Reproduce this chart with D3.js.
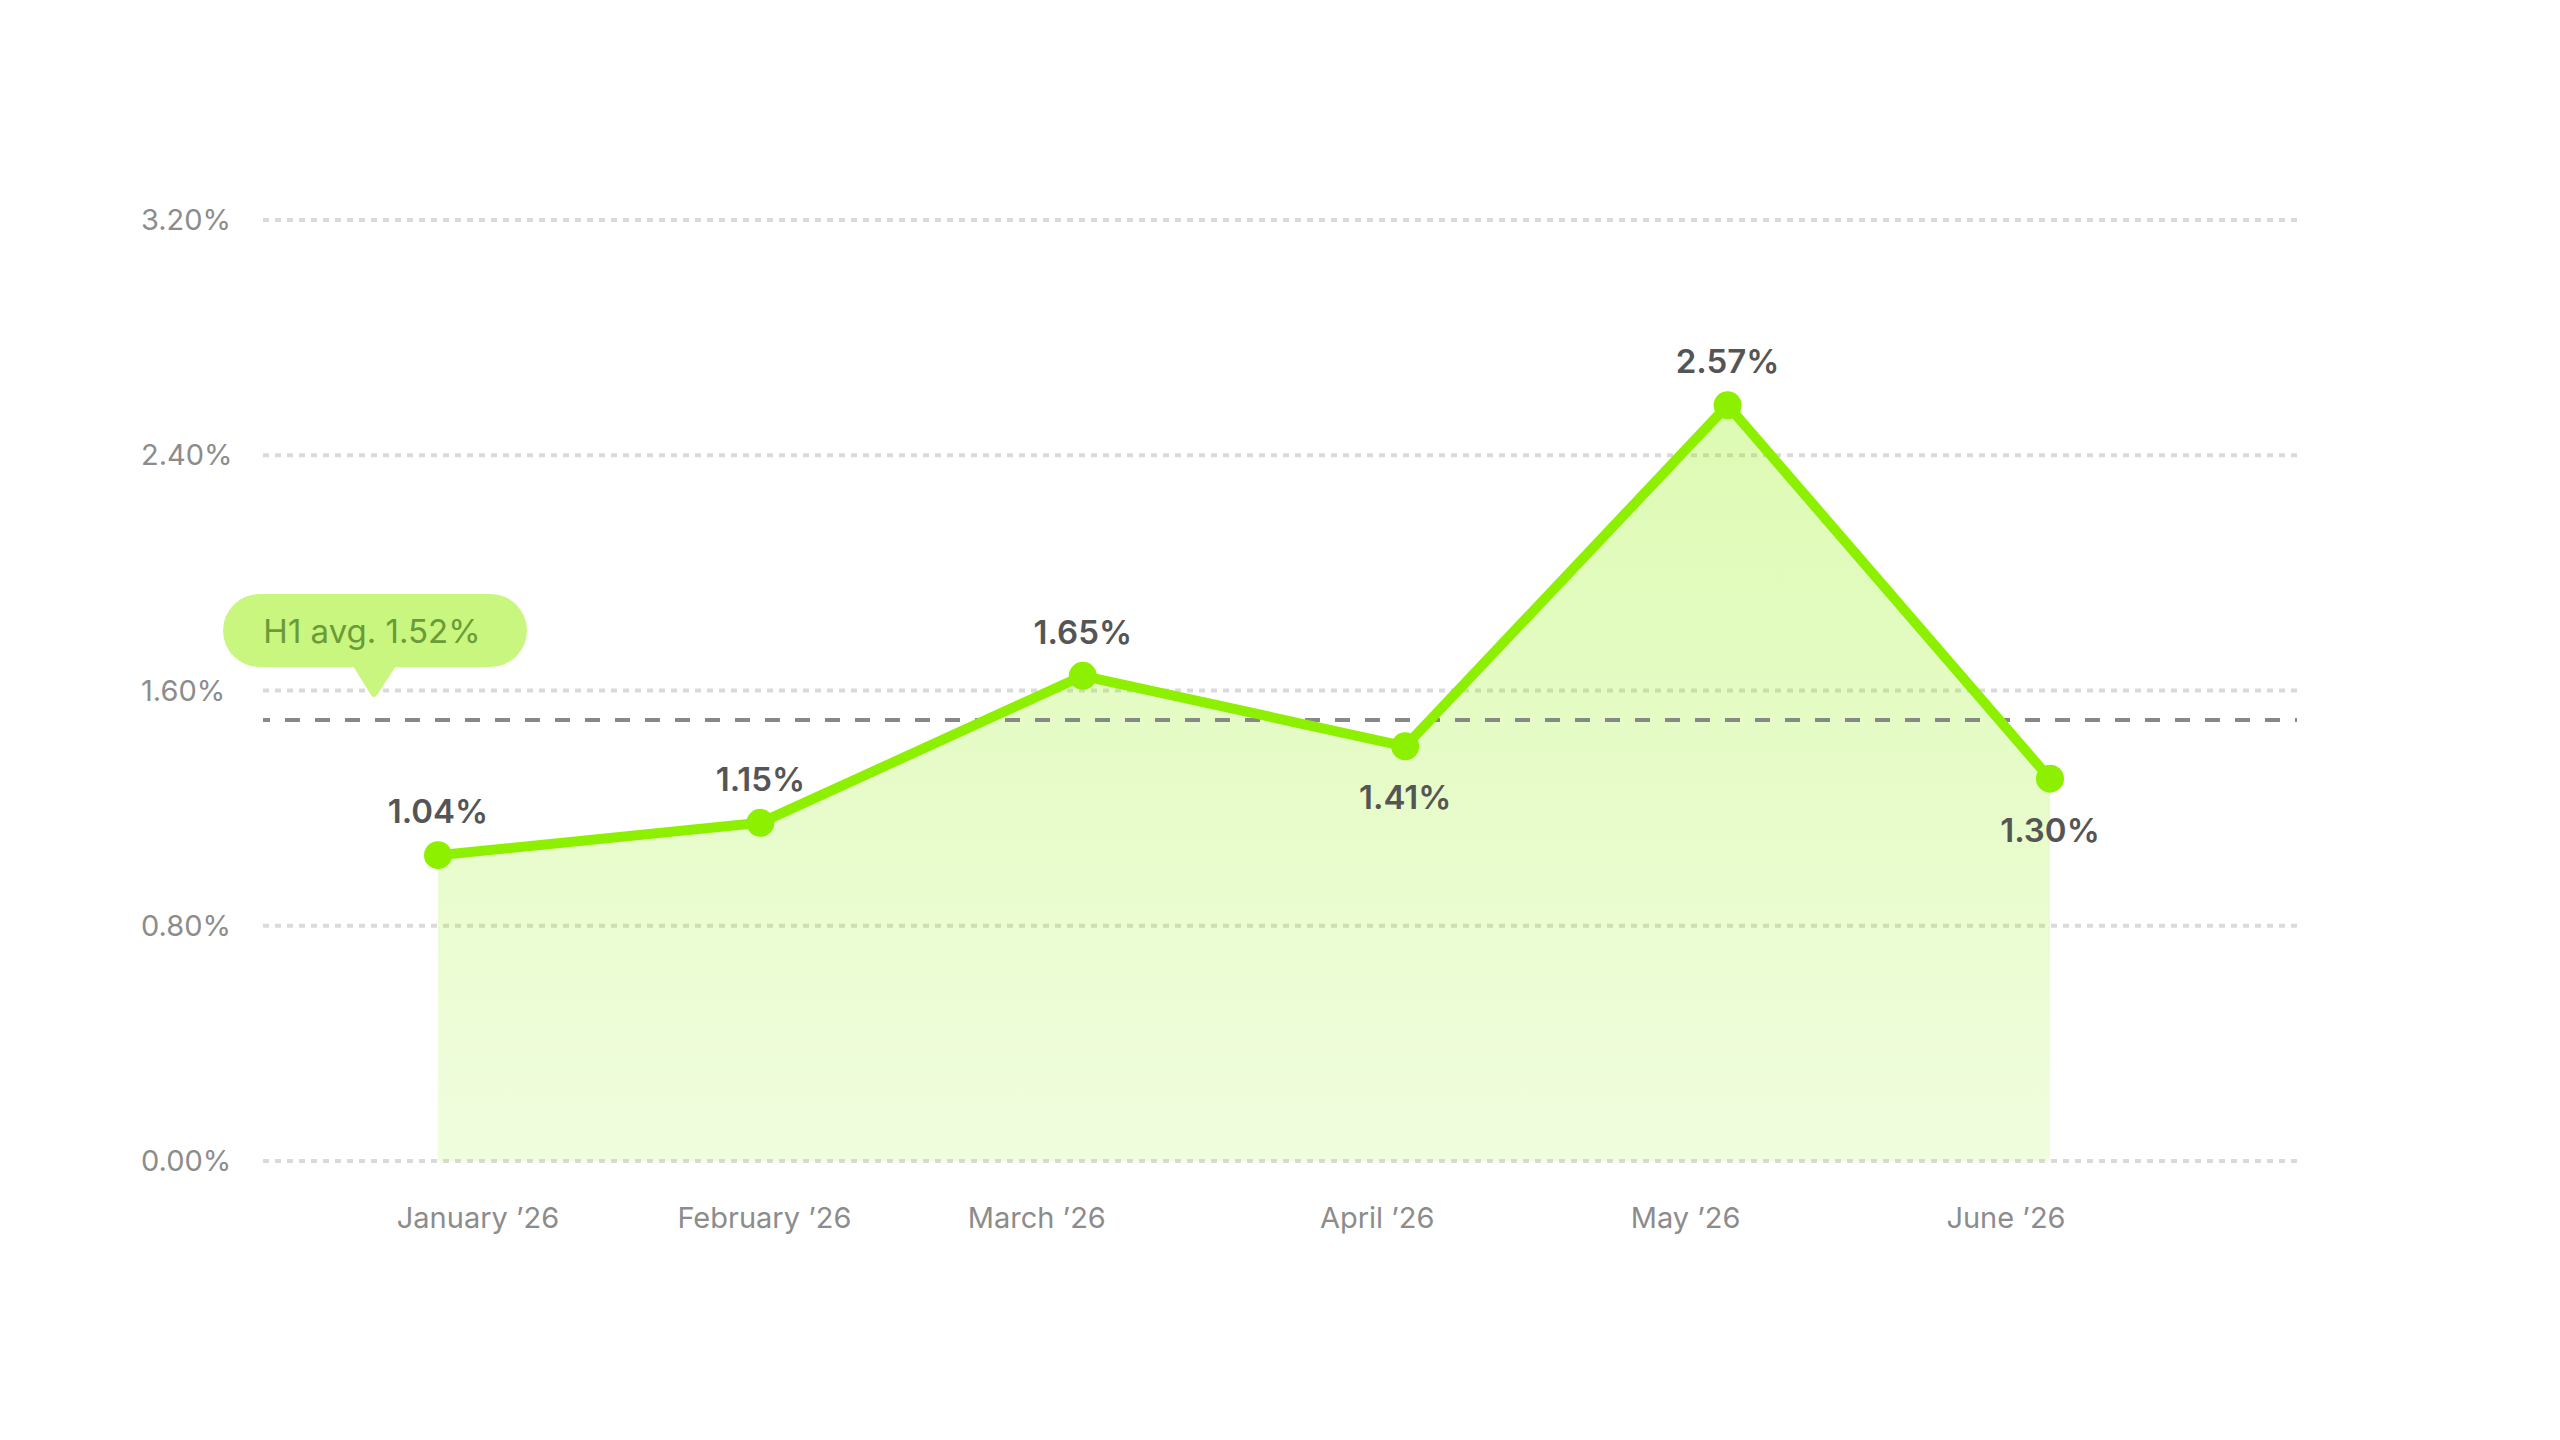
<!DOCTYPE html>
<html>
<head>
<meta charset="utf-8">
<script src="https://cdn.jsdelivr.net/npm/d3@7"></script>
<style>
  html, body { margin: 0; padding: 0; background: #fff; }
  svg { display: block; font-family: Inter, "Noto Sans", sans-serif; }
</style>
</head>
<body>
<svg id="chart" width="2560" height="1440"></svg>
<script>
// dados
const months = ["January \u201926", "February \u201926", "March \u201926", "April \u201926", "May \u201926", "June \u201926"];
const rates = [1.04, 1.15, 1.65, 1.41, 2.57, 1.30];
const yTicks = [0, 0.8, 1.6, 2.4, 3.2];
const avgLineAt = 1.50;

// layout
const cfg = {
  gridLeft: 263, gridRight: 2297,
  yTop: 220, yBottom: 1161,
  xFirst: 438, xLast: 2050,
  lime: "#8df000",
  tickNudge: [40, 4, -46, -28, -42, -44]
};

const svg = d3.select("#chart");

const x = d3.scalePoint().domain(months).range([cfg.xFirst, cfg.xLast]);
const y = d3.scaleLinear().domain([0, 3.2]).range([cfg.yBottom, cfg.yTop]);
const pct = v => d3.format(".2f")(v) + "%";

const pts = months.map((m, i) => ({ m, v: rates[i], i }));

// gradiente da área
const grad = svg.append("defs").append("linearGradient")
  .attr("id", "areaGrad").attr("x1", 0).attr("x2", 0).attr("y1", 0).attr("y2", 1);
grad.append("stop").attr("offset", "0%").attr("stop-color", cfg.lime).attr("stop-opacity", 0.3);
grad.append("stop").attr("offset", "100%").attr("stop-color", cfg.lime).attr("stop-opacity", 0.13);

// grade pontilhada
svg.append("g").selectAll("line").data(yTicks).join("line")
  .attr("x1", cfg.gridLeft).attr("x2", cfg.gridRight)
  .attr("y1", d => y(d)).attr("y2", d => y(d))
  .attr("stroke", "#dadada").attr("stroke-width", 4)
  .attr("stroke-dasharray", "6 6");

// eixo y (só rótulos)
svg.append("g").selectAll("text").data(yTicks).join("text")
  .attr("x", 141).attr("y", d => y(d) + 10)
  .attr("font-size", 29).attr("fill", "#8c8c8c")
  .text(d => pct(d));

// área
svg.append("path").datum(pts)
  .attr("fill", "url(#areaGrad)")
  .attr("d", d3.area().x(d => x(d.m)).y0(y(0)).y1(d => y(d.v)));

// linha da média
const avg = d3.mean(rates);
svg.append("line")
  .attr("x1", cfg.gridLeft).attr("x2", cfg.gridRight)
  .attr("y1", y(avgLineAt)).attr("y2", y(avgLineAt))
  .attr("stroke", "#888").attr("stroke-width", 4)
  .attr("stroke-dasharray", "15 15").attr("stroke-dashoffset", 8);

// linha principal
svg.append("path").datum(pts)
  .attr("fill", "none").attr("stroke", cfg.lime)
  .attr("stroke-width", 10).attr("stroke-linejoin", "round")
  .attr("d", d3.line().x(d => x(d.m)).y(d => y(d.v)));

svg.append("g").selectAll("circle").data(pts).join("circle")
  .attr("cx", d => x(d.m)).attr("cy", d => y(d.v)).attr("r", 14)
  .attr("fill", cfg.lime);

// rótulos de valor: abaixo quando cai em relação ao mês anterior
svg.append("g").selectAll("text").data(pts).join("text")
  .attr("x", d => x(d.m))
  .attr("y", d => (d.i > 0 && d.v < rates[d.i - 1]) ? y(d.v) + 63 : y(d.v) - 32)
  .attr("text-anchor", "middle")
  .attr("font-size", 33).attr("font-weight", 600).attr("fill", "#555")
  .text(d => pct(d.v));

// eixo x
svg.append("g").selectAll("text").data(pts).join("text")
  .attr("x", d => x(d.m) + cfg.tickNudge[d.i]).attr("y", 1228)
  .attr("text-anchor", "middle")
  .attr("font-size", 29).attr("fill", "#8c8c8c")
  .text(d => d.m);

// balão da média
const tip = svg.append("g");
const pill = { x: 223, y: 594, w: 304, h: 73 };
tip.append("rect")
  .attr("x", pill.x).attr("y", pill.y).attr("width", pill.w).attr("height", pill.h)
  .attr("rx", pill.h / 2).attr("fill", "#c8f67e");
tip.append("path")
  .attr("d", `M353,${pill.y + pill.h - 1} L396,${pill.y + pill.h - 1} L377,695 Q374,699 371,695 Z`)
  .attr("fill", "#c8f67e");
tip.append("text")
  .attr("x", pill.x + pill.w / 2 - 3).attr("y", 643)
  .attr("text-anchor", "middle")
  .attr("font-size", 33).attr("fill", "#6b9b38")
  .text("H1 avg. " + pct(avg));
</script>
</body>
</html>
